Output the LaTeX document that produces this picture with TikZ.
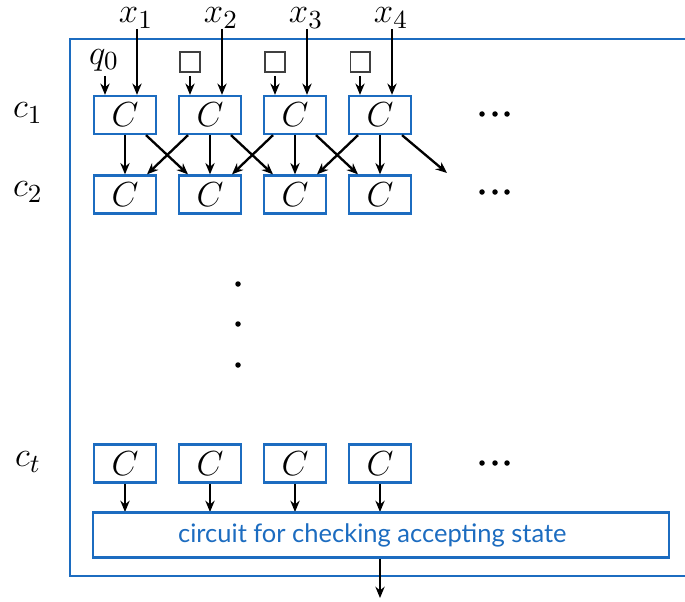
\documentclass[tikz,border=0pt]{standalone}
\usepackage{fontspec}
\setsansfont{Lato}
\usetikzlibrary{arrows.meta,calc}
\definecolor{BoxBlue}{RGB}{28,108,192}

\begin{document}
\begin{tikzpicture}[x=0.345pt, y=-0.345pt,
		every node/.style={font=\fontsize{13}{15}\selectfont},
		cbox/.style={draw=BoxBlue, line width=0.8pt, minimum width=21.4pt, minimum height=13.1pt, inner sep=0pt},
		arr/.style={-{Stealth[length=3.9pt,width=3.2pt]}, line width=0.8pt},
		blank/.style={draw=black!75, line width=0.45pt, minimum size=6.8pt, inner sep=0pt}]
	\useasboundingbox (0,0) rectangle (685,601);
	\clip (0,0) rectangle (685,601);
	\draw[BoxBlue, line width=0.8pt] (70,39) rectangle (720,576);
	% rows of cells
	\foreach \i in {1,...,4} {
		\node[cbox] (c1-\i) at ({125+85*(\i-1)},115) {$C$};
		\node[cbox] (c2-\i) at ({125+85*(\i-1)},194.5) {$C$};
		\node[cbox] (ct-\i) at ({125+85*(\i-1)},463.5) {$C$};
		\node[inner sep=0pt] (x\i) at ({136+85*(\i-1)},18) {$x_{\i}$};
		\coordinate (in\i) at ({137+85*(\i-1)},29);
		\draw[arr] (in\i) -- (in\i |- c1-\i.north);
		\draw[arr] (c1-\i) -- (c2-\i);
		\draw[arr] (ct-\i.south) -- (ct-\i.south |- 0,512);
	}
	\node (q0) at (104,60) {$q_0$};
	\draw[arr] (105,76) -- ($(c1-1.north)+(-20,0)$);
	\foreach \i in {2,3,4} {
		\node[blank] (b\i) at ({190+85*(\i-2)},62) {};
		\draw[arr] (b\i.south |- 0,76) -- ($(c1-\i.north)+(-20,0)$);
	}
	% crossing connectors
	\foreach \i/\j in {1/2,2/3,3/4} {
		\draw[arr] ($(c1-\i.south)+(21,0)$) -- ($(c2-\j.north)+(-22,0)$);
		\draw[arr] ($(c1-\j.south)+(-22,0)$) -- ($(c2-\i.north)+(22,0)$);
	}
	\coordinate (next) at (447,173);
	\draw[arr] ($(c1-4.south)+(22,0)$) -- (next);
	% state labels
	\node (l1) at (28,113) {$c_1$};
	\node (l2) at (28,192) {$c_2$};
	\node (lt) at (28,462) {$c_t$};
	% dots
	\foreach \y in {114,192,463}
		\foreach \x in {482,495,507}
			\fill (\x,\y) circle (0.95pt);
	\foreach \y in {284,324,365}
		\fill (238,\y) circle (0.95pt);
	% checking circuit
	\node[cbox, minimum width=198.7pt, minimum height=15.5pt, font=\sffamily\fontsize{8.8}{10}\selectfont, text=BoxBlue] (check) at (381,535) {\hspace*{-3pt}circuit for checking accepting state\hspace*{3pt}};
	\coordinate (out) at (380,598);
	\draw[arr] (check.south -| out) -- (out);
\end{tikzpicture}
\end{document}
